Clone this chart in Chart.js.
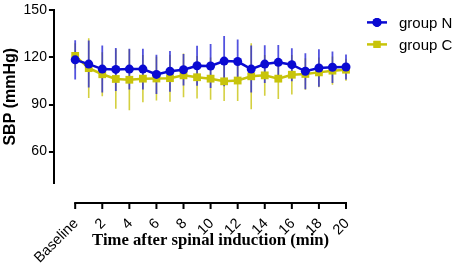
<!DOCTYPE html>
<html>
<head>
<meta charset="utf-8">
<script src="https://cdn.jsdelivr.net/npm/chart.js@4/dist/chart.umd.min.js"></script>
<style>
  html, body { margin: 0; padding: 0; background: #fff; }
  #wrap { width: 457px; height: 266px; }
</style>
</head>
<body>
<div id="wrap"><canvas id="sbp" width="457" height="266"></canvas></div>
<script>
// minutes after spinal induction (0 = baseline)
const minutes = [0, 1, 2, 3, 4, 5, 6, 7, 8, 9, 10, 11, 12, 13, 14, 15, 16, 17, 18, 19, 20];
const xTickValues = [0, 2, 4, 6, 8, 10, 12, 14, 16, 18, 20];
const xTickLabels = ["Baseline", "2", "4", "6", "8", "10", "12", "14", "16", "18", "20"];
const yTickValues = [60, 90, 120, 150];

const groupN = [118.5, 115.8, 112.6, 112.4, 112.6, 112.6, 109.2, 111.2, 112.2, 114.7, 114.6, 117.7, 117.4, 112.6, 115.8, 116.9, 115.4, 111.2, 113.3, 113.8, 113.9];
const groupNsd = [12.5, 15, 15, 13.7, 13, 13, 12.5, 13, 10, 12.7, 14, 16, 14, 15, 12, 11, 10.5, 11.5, 12, 10, 8];
const groupC = [121, 113.2, 109.3, 106.3, 105.8, 106.5, 106.6, 106.8, 108.6, 107.4, 106.5, 104.8, 105.3, 108, 108.6, 106.5, 109, 109.5, 110.5, 111.6, 112.2];
const groupCsd = [8, 19, 14, 19, 19.5, 15, 14, 15, 14, 13.5, 13.5, 12.6, 13, 21, 13, 13, 12.6, 10, 9.5, 9, 7];

const blue = "#0a0ad2";
const olive = "#c8c40a";

function points(values) {
    return minutes.map((m, i) => ({ x: m, y: values[i] }));
}

// vertical SD bars, no caps
const errorBars = {
    id: "errorBars",
    beforeDatasetsDraw(chart) {
        const { ctx, scales: { x, y } } = chart;
        const sets = [
            { mean: groupC, sd: groupCsd, color: "rgba(205,200,30,0.85)", width: 1.6 },
            { mean: groupN, sd: groupNsd, color: "rgba(40,40,215,0.8)", width: 1.8 }
        ];
        ctx.save();
        for (const s of sets) {
            ctx.strokeStyle = s.color;
            ctx.lineWidth = s.width;
            ctx.beginPath();
            minutes.forEach((m, i) => {
                const px = x.getPixelForValue(m);
                ctx.moveTo(px, y.getPixelForValue(s.mean[i] + s.sd[i]));
                ctx.lineTo(px, y.getPixelForValue(s.mean[i] - s.sd[i]));
            });
            ctx.stroke();
        }
        ctx.restore();
    }
};

// detached x axis line with ticks, x title and legend
const decorations = {
    id: "decorations",
    afterDraw(chart) {
        const ctx = chart.ctx;
        const area = chart.chartArea;
        const x = chart.scales.x;
        const axisY = area.bottom + 20;
        const x0 = x.getPixelForValue(0);
        const x1 = x.getPixelForValue(20);
        ctx.save();
        ctx.fillStyle = "#000";
        ctx.fillRect(x0 - 1, axisY - 1, x1 - x0 + 2, 2);
        for (const v of xTickValues) {
            const px = x.getPixelForValue(v);
            ctx.fillRect(px - 1, axisY, 2, 6);
        }

        ctx.font = "bold 16.7px 'Liberation Serif', 'Times New Roman', serif";
        ctx.textAlign = "center";
        ctx.textBaseline = "middle";
        ctx.fillText("Time after spinal induction (min)", (x0 + x1) / 2, 241);

        // legend
        const items = [
            { text: "group N", color: blue, style: "circle" },
            { text: "group C", color: olive, style: "rect" }
        ];
        ctx.font = "15px 'Liberation Sans', Arial, sans-serif";
        ctx.textAlign = "left";
        items.forEach((it, i) => {
            const ly = area.top + 12 + i * 22;
            const lx = area.right + 21;
            ctx.strokeStyle = it.color;
            ctx.lineWidth = 2.5;
            ctx.beginPath();
            ctx.moveTo(lx, ly);
            ctx.lineTo(lx + 20, ly);
            ctx.stroke();
            ctx.fillStyle = it.color;
            Chart.helpers.drawPoint(ctx, { pointStyle: it.style, radius: it.style === "rect" ? 5 : 4.5, rotation: 0 }, lx + 10, ly);
            ctx.fill();
            ctx.fillStyle = "#000";
            ctx.fillText(it.text, lx + 32, ly + 1);
        });
        ctx.restore();
    }
};

new Chart(document.getElementById("sbp"), {
    type: "line",
    data: {
        datasets: [{
            label: "group N",
            data: points(groupN),
            borderColor: blue,
            backgroundColor: blue,
            borderWidth: 2.5,
            pointStyle: "circle",
            pointRadius: 4.5,
            pointBorderWidth: 0,
            tension: 0,
            clip: false
        }, {
            label: "group C",
            data: points(groupC),
            borderColor: olive,
            backgroundColor: olive,
            borderWidth: 2.5,
            pointStyle: "rect",
            pointRadius: 5.5,
            pointBorderWidth: 0,
            tension: 0,
            clip: false
        }]
    },
    options: {
        responsive: false,
        animation: false,
        layout: { padding: { top: 8, right: 111, left: 0, bottom: 0 } },
        plugins: {
            legend: { display: false },
            tooltip: { enabled: false }
        },
        scales: {
            x: {
                type: "linear",
                min: -1.57,
                max: 20,
                afterFit(scale) { scale.height = 83; },
                afterBuildTicks(scale) { scale.ticks = xTickValues.map(v => ({ value: v })); },
                grid: { display: false, drawTicks: false },
                border: { display: false },
                ticks: {
                    autoSkip: false,
                    minRotation: 45,
                    maxRotation: 45,
                    padding: 32,
                    labelOffset: 1,
                    color: "#000",
                    font: { family: "'Liberation Sans', Arial, sans-serif", size: 14.5 },
                    callback: (v) => xTickLabels[xTickValues.indexOf(v)]
                }
            },
            y: {
                min: 40,
                max: 150,
                afterFit(scale) { scale.width = 53; },
                afterBuildTicks(scale) { scale.ticks = yTickValues.map(v => ({ value: v })); },
                grid: { drawOnChartArea: false, drawTicks: true, tickLength: 5, color: "#000", lineWidth: 2 },
                border: { display: true, color: "#000", width: 2 },
                ticks: {
                    padding: 2,
                    color: "#000",
                    font: { family: "'Liberation Sans', Arial, sans-serif", size: 14 }
                },
                title: {
                    display: true,
                    text: "SBP (mmHg)",
                    color: "#000",
                    padding: { top: 0, bottom: 4 },
                    font: { family: "'Liberation Sans', Arial, sans-serif", size: 16, weight: "bold" }
                }
            }
        }
    },
    plugins: [errorBars, decorations]
});
</script>
</body>
</html>
